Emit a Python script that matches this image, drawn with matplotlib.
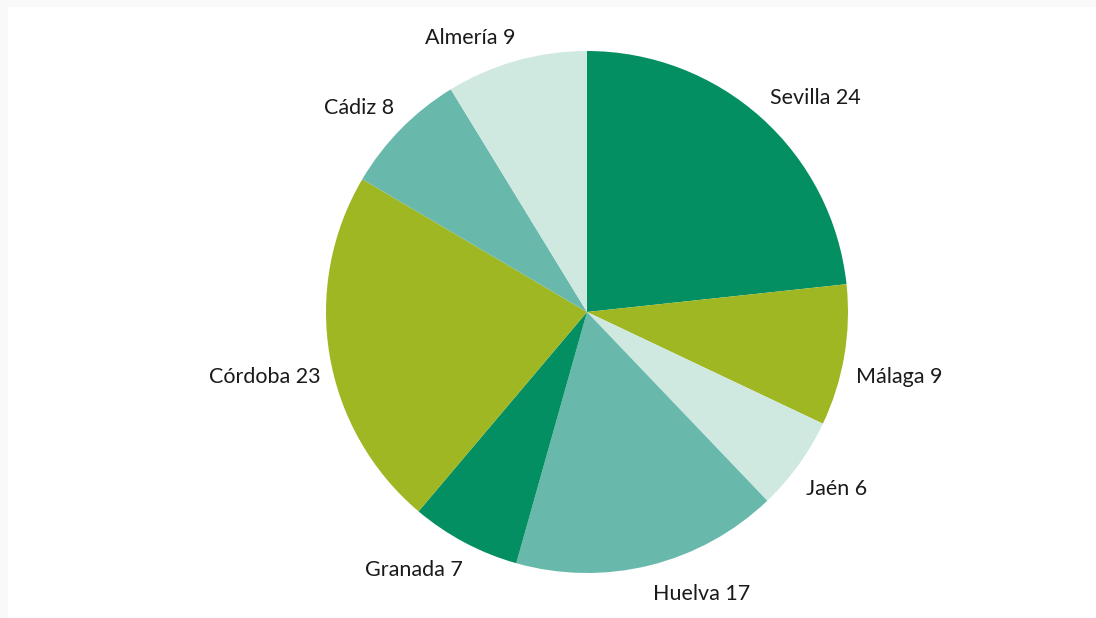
import matplotlib.pyplot as plt
from matplotlib.patches import Rectangle
from matplotlib.transforms import ScaledTranslation

# Data
provinces = ["Sevilla", "Málaga", "Jaén", "Huelva", "Granada", "Córdoba", "Cádiz", "Almería"]
values = [24, 9, 6, 17, 7, 23, 8, 9]
colors = ["#038f62", "#9eb722", "#cfe8e0", "#68b9ab", "#038f62", "#9eb722", "#68b9ab", "#cfe8e0"]

# small label nudges in pixels (right, down)
nudges = [(-9, 0), (-14, 17), (-14, 9), (-3, 3), (10, 4), (17, 17), (12, -3), (6, 2)]

plt.rcParams["font.family"] = ["Lato", "DejaVu Sans"]

W, H = 1096, 618
fig = plt.figure(figsize=(W / 100, H / 100), dpi=100, facecolor="#f9f9f9")
fig.patches.append(Rectangle((8 / W, 0), 1, 1 - 7 / H, transform=fig.transFigure,
                             facecolor="white", edgecolor="none", zorder=-10))

# pie centre (587, 312), radius 261 px
cx, cy, r = 587, 312, 261
ax = fig.add_axes([(cx - r) / W, (H - cy - r) / H, 2 * r / W, 2 * r / H])
ax.set_facecolor("none")
ax.set_zorder(5)

labels = [f"{p} {v}" for p, v in zip(provinces, values)]
wedges, texts = ax.pie(values, labels=labels, colors=colors, startangle=90, counterclock=False,
                       labeldistance=1.1, textprops={"fontsize": 15.5, "color": "#1a1a1a"},
                       wedgeprops={"linewidth": 0})
for t, (dx, dy) in zip(texts, nudges):
    t.set_transform(ax.transData + ScaledTranslation(dx / 100, -dy / 100, fig.dpi_scale_trans))

ax.set_xlim(-1, 1)
ax.set_ylim(-1, 1)
ax.set_aspect("equal")

fig.savefig("out.png", dpi=100, facecolor=fig.get_facecolor())
